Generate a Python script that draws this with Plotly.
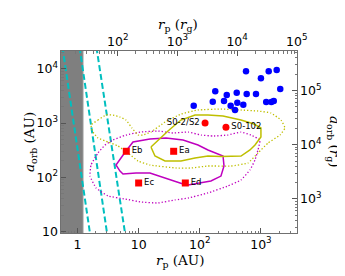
import plotly.graph_objects as go

# ---------------- data (AU) ----------------
# S-stars (blue)
sstar_rp = [79.5, 179, 163, 276, 249, 320, 377, 402, 411, 515, 570, 585, 830, 1000, 1340, 1220, 1480, 1620, 1810, 2070]
sstar_a = [2090, 3850, 2480, 3300, 2550, 2090, 1740, 3630, 2370, 2180, 9020, 3440, 3440, 6700, 9020, 2450, 2450, 2550, 9530, 4250]

# named S-stars (red circles)
named_labels = ["S0-2/S2", "S0-102"]
named_rp = [122, 268]
named_a = [1000, 834]

# E objects (red squares)
e_labels = ["Eb", "Ea", "Ec", "Ed"]
e_rp = [6.28, 37.4, 10.0, 58.0]
e_a = [301, 301, 78.2, 78.2]

# cyan dashed boundaries (rp at a_top, rp at a_bottom)
line_a = [25000, 8]
line1_rp = [0.568, 1.63]
line2_rp = [1.08, 3.10]
line3_rp = [2.04, 6.11]

# excluded region (gray)
gray_rp_max = 1.23

# magenta solid contour
mag_solid_rp = [6.21, 8.08, 15.3, 28.0, 53.2, 93.5, 136, 240, 249, 222, 152, 105, 64.3, 53.2, 28.0, 15.3, 9.05, 5.55, 4.95, 4.26, 5.14, 6.21]
mag_solid_a = [305, 447, 507, 529, 486, 393, 318, 246, 161, 105, 85.1, 78.2, 71.9, 75.0, 96.8, 120, 120, 115, 130, 168, 226, 305]

# yellow solid contour
yel_solid_rp = [15.9, 20.7, 30.2, 39.3, 49.3, 83.5, 136, 240, 472, 770, 1000, 1000, 800, 662, 472, 222, 136, 83.5, 49.3, 27.0, 18.5, 15.9]
yel_solid_a = [361, 486, 712, 919, 1136, 1406, 1406, 1346, 1136, 959, 809, 552, 393, 318, 246, 241, 246, 226, 199, 199, 246, 361]

# yellow dotted contour
yel_dot_rp = [1.66, 2.16, 2.92, 3.81, 4.95, 6.21, 7.78, 9.76, 11.8, 15.9, 27.0, 49.3, 93.5, 222, 472, 895, 1462, 2130, 2480, 2050, 1306, 895, 614, 324, 136, 71.8, 40.8, 15.3, 9.76, 6.70, 4.59, 3.15, 2.16, 1.79, 1.66]
yel_dot_a = [919, 1136, 1406, 1406, 1291, 1136, 809, 601, 601, 682, 1043, 1466, 1740, 1815, 1740, 1667, 1530, 1136, 809, 601, 428, 280, 183, 161, 161, 148, 148, 168, 199, 280, 377, 447, 529, 682, 919]

# magenta dotted contour
mag_dot_rp = [2.16, 2.82, 3.81, 6.21, 10.9, 20.7, 36.5, 64.3, 105, 164, 289, 472, 688, 966, 895, 800, 662, 472, 289, 136, 64.3, 39.3, 20.7, 10.9, 5.98, 3.15, 2.01, 1.60, 1.66, 2.16]
mag_dot_a = [280, 393, 486, 601, 682, 712, 654, 682, 601, 576, 601, 682, 601, 486, 318, 208, 136, 88.8, 68.9, 51.2, 41.3, 38.0, 33.4, 34.9, 39.6, 45.0, 63.3, 105, 168, 280]

# axis ranges (log10)
x_range = [-0.27, 3.59]
y_range = [0.97, 4.33]
xg_range = [1.05, 5.003]
yg_range = [2.37, 5.73]

CYAN = "#00bfbf"
MAG = "#bf00bf"
YEL = "#bfbf00"

fig = go.Figure()

# gray region
fig.add_trace(go.Scatter(x=[0.1, gray_rp_max, gray_rp_max, 0.1, 0.1], y=[1, 1, 1e6, 1e6, 1],
                         fill="toself", fillcolor="#7f7f7f", mode="lines",
                         line=dict(color="#9a9a9a", width=1), hoverinfo="skip"))

for rp in (line1_rp, line2_rp, line3_rp):
    fig.add_trace(go.Scatter(x=rp, y=line_a, mode="lines",
                             line=dict(color=CYAN, width=2, dash="6px,3px")))

fig.add_trace(go.Scatter(x=mag_dot_rp, y=mag_dot_a, mode="lines",
                         line=dict(color=MAG, width=1.3, dash="1.3px,2px", shape="spline", smoothing=0.3)))
fig.add_trace(go.Scatter(x=yel_dot_rp, y=yel_dot_a, mode="lines",
                         line=dict(color=YEL, width=1.3, dash="1.3px,2px", shape="spline", smoothing=0.3)))
fig.add_trace(go.Scatter(x=mag_solid_rp, y=mag_solid_a, mode="lines",
                         line=dict(color=MAG, width=1.5)))
fig.add_trace(go.Scatter(x=yel_solid_rp, y=yel_solid_a, mode="lines",
                         line=dict(color=YEL, width=1.5)))

fig.add_trace(go.Scatter(x=sstar_rp, y=sstar_a, mode="markers",
                         marker=dict(color="#0000ff", size=6.5, line=dict(width=0))))

fig.add_trace(go.Scatter(x=named_rp[:1], y=named_a[:1], mode="markers+text", text=named_labels[:1],
                         textposition="middle left",
                         textfont=dict(family="DejaVu Sans", size=8.5, color="black"),
                         marker=dict(color="#ff0000", size=7, line=dict(width=0))))
fig.add_trace(go.Scatter(x=named_rp[1:], y=named_a[1:], mode="markers+text", text=named_labels[1:],
                         textposition="middle right",
                         textfont=dict(family="DejaVu Sans", size=8.5, color="black"),
                         marker=dict(color="#ff0000", size=7, line=dict(width=0))))
fig.add_trace(go.Scatter(x=e_rp, y=e_a, mode="markers+text", text=e_labels,
                         textposition="middle right",
                         textfont=dict(family="DejaVu Sans", size=8.5, color="black"),
                         marker=dict(color="#ff0000", size=7, symbol="square", line=dict(width=0))))

# dummy trace for secondary axes
fig.add_trace(go.Scatter(x=[1000], y=[10000], xaxis="x2", yaxis="y2", mode="markers",
                         marker=dict(opacity=0), hoverinfo="skip"))

axis_common = dict(type="log", showgrid=False, zeroline=False, showline=True,
                   linecolor="#707070", linewidth=1, ticks="inside", ticklen=5, tickwidth=1,
                   tickcolor="#555", dtick=1, exponentformat="power", showexponent="all",
                   tickfont=dict(family="DejaVu Sans", size=10, color="black"),
                   minor=dict(ticks="inside", ticklen=2.5, tickcolor="#777", showgrid=False))

fig.update_layout(
    width=345, height=276,
    margin=dict(l=53, r=56, t=43, b=51),
    paper_bgcolor="white", plot_bgcolor="white",
    showlegend=False,
    xaxis=dict(range=x_range, **axis_common),
    yaxis=dict(range=y_range, **axis_common),
    xaxis2=dict(range=xg_range, overlaying="x", side="top", anchor="y2", **axis_common),
    yaxis2=dict(range=yg_range, overlaying="y", side="right", anchor="x2", **axis_common),
)

title_font = dict(family="DejaVu Serif", size=13.5, color="black")
fig.add_annotation(text="<i>r</i><sub>p</sub> (AU)", xref="paper", yref="paper", x=0.504, y=-0.154,
                   showarrow=False, xanchor="center", yanchor="middle", font=title_font)
fig.add_annotation(text="<i>r</i><sub>p</sub> (<i>r</i><sub>g</sub>)", xref="paper", yref="paper", x=0.496, y=1.145,
                   showarrow=False, xanchor="center", yanchor="middle", font=title_font)
fig.add_annotation(text="<i>a</i><sub>orb</sub> (AU)", xref="paper", yref="paper", x=-0.131, y=0.5,
                   showarrow=False, xanchor="center", yanchor="middle", textangle=-90, font=title_font)
fig.add_annotation(text="<i>a</i><sub>orb</sub> (<i>r</i><sub>g</sub>)", xref="paper", yref="paper", x=1.157, y=0.5,
                   showarrow=False, xanchor="center", yanchor="middle", textangle=90, font=title_font)

fig.write_html("out.html")
